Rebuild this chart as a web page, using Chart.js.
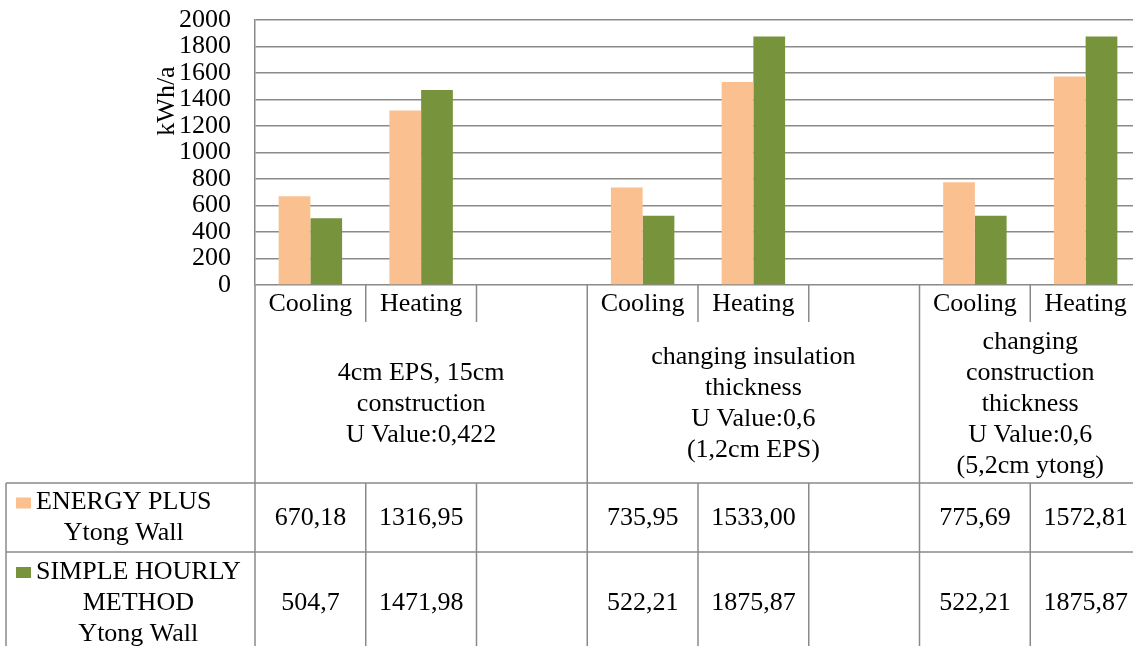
<!DOCTYPE html>
<html lang="en">
<head>
  <meta charset="UTF-8" />
  <title>Ytong Wall - Cooling and Heating</title>
  <script src="https://cdn.jsdelivr.net/npm/chart.js"></script>
  <style>
    html, body {
      margin: 0;
      padding: 0;
      background: #fff;
      overflow: hidden;
    }
    #wrap {
      width: 1141px;
      height: 646px;
    }
  </style>
</head>
<body>
  <div id="wrap"><canvas id="grafico" width="1141" height="646"></canvas></div>

<script>
  // data as printed in the table (decimal comma)
  const categories = ["Cooling", "Heating", "", "Cooling", "Heating", "", "Cooling", "Heating"];
  const energyPlus = ["670,18", "1316,95", "", "735,95", "1533,00", "", "775,69", "1572,81"];
  const simpleHourly = ["504,7", "1471,98", "", "522,21", "1875,87", "", "522,21", "1875,87"];
  const groupStarts = [0, 3, 6];
  const groupLabels = [
    ["4cm EPS, 15cm", "construction", "U Value:0,422"],
    ["changing insulation", "thickness", "U Value:0,6", "(1,2cm EPS)"],
    ["changing", "construction", "thickness", "U Value:0,6", "(5,2cm ytong)"]
  ];
  const seriesNames = [
    ["ENERGY PLUS", "Ytong Wall"],
    ["SIMPLE HOURLY", "METHOD", "Ytong Wall"]
  ];
  const yTitle = "kWh/a";
  const yMin = 0, yMax = 2000, yStep = 200;

  const corLaranja = "#FAC090";
  const corVerde = "#77933C";
  const corLinha = "#8a8a8a";
  const fonte = "'Liberation Serif', 'Times New Roman', serif";
  const tamanho = 26;

  function toNum(s) {
    return s === "" ? null : parseFloat(s.replace(",", "."));
  }

  const tabela = {
    id: "tabela",
    afterDraw(chart) {
      const ctx = chart.ctx;
      const xs = chart.scales.x;
      const area = chart.chartArea;
      const n = categories.length;
      const colW = (area.right - area.left) / n;
      const colLeft = i => area.left + i * colW;
      const topo = area.bottom;
      const catBottom = 322, groupBottom = 483, rowSplit = 552, fundo = chart.height;
      const legLeft = 6;

      ctx.save();
      ctx.strokeStyle = corLinha;
      ctx.lineWidth = 1.5;
      const linha = (x1, y1, x2, y2) => {
        ctx.beginPath();
        ctx.moveTo(x1, y1);
        ctx.lineTo(x2, y2);
        ctx.stroke();
      };
      for (let i = 0; i <= n; i++) {
        const x = colLeft(i);
        if (groupStarts.includes(i) || i === n) {
          linha(x, topo, x, fundo);
        } else {
          linha(x, topo, x, catBottom);
          linha(x, groupBottom, x, fundo);
        }
      }
      linha(legLeft, groupBottom, area.right, groupBottom);
      linha(legLeft, rowSplit, area.right, rowSplit);
      linha(legLeft, groupBottom, legLeft, fundo);

      ctx.fillStyle = "#000";
      ctx.font = tamanho + "px " + fonte;
      ctx.textAlign = "center";
      ctx.textBaseline = "middle";

      categories.forEach((c, i) => ctx.fillText(c, xs.getPixelForValue(i), 304));

      groupLabels.forEach((linhas, g) => {
        const a = groupStarts[g];
        const b = g + 1 < groupStarts.length ? groupStarts[g + 1] : n;
        const cx = (colLeft(a) + colLeft(b)) / 2;
        linhas.forEach((t, k) => ctx.fillText(t, cx, 404 + (k - (linhas.length - 1) / 2) * 31));
      });

      const linhasTabela = [
        { y: 518, valores: energyPlus, nomes: seriesNames[0], cor: corLaranja },
        { y: 603, valores: simpleHourly, nomes: seriesNames[1], cor: corVerde }
      ];
      linhasTabela.forEach(r => {
        r.valores.forEach((v, i) => ctx.fillText(v, xs.getPixelForValue(i), r.y));
        const larg = Math.max(...r.nomes.map(t => ctx.measureText(t).width));
        const x0 = 36;
        r.nomes.forEach((t, k) => {
          const y = r.y + (k - (r.nomes.length - 1) / 2) * 31;
          ctx.fillText(t, x0 + larg / 2, y);
          if (k === 0) {
            ctx.fillStyle = r.cor;
            ctx.fillRect(16, y - 5, 15, 11);
            ctx.fillStyle = "#000";
          }
        });
      });

      // y axis title
      ctx.translate(167, 101);
      ctx.rotate(-Math.PI / 2);
      ctx.fillText(yTitle, 0, 0);
      ctx.restore();
    }
  };

  new Chart(document.getElementById("grafico").getContext("2d"), {
    type: "bar",
    data: {
      labels: categories,
      datasets: [
        {
          label: seriesNames[0].join(" "),
          data: energyPlus.map(toNum),
          backgroundColor: corLaranja,
          categoryPercentage: 0.573,
          barPercentage: 1
        },
        {
          label: seriesNames[1].join(" "),
          data: simpleHourly.map(toNum),
          backgroundColor: corVerde,
          categoryPercentage: 0.573,
          barPercentage: 1
        }
      ]
    },
    options: {
      responsive: false,
      animation: false,
      layout: { padding: { top: 20, bottom: 361, left: 0, right: 0 } },
      plugins: {
        legend: { display: false },
        tooltip: { enabled: false }
      },
      scales: {
        x: { display: false },
        y: {
          min: yMin,
          max: yMax,
          ticks: {
            stepSize: yStep,
            autoSkip: false,
            padding: 24,
            color: "#000",
            font: { family: fonte, size: tamanho, lineHeight: 1 },
            callback: v => String(v)
          },
          grid: { color: corLinha, lineWidth: 1.5, drawTicks: false },
          border: { color: corLinha, width: 1.5 },
          afterFit(s) {
            s.width = 255;
            s.paddingTop = 0;
            s.paddingBottom = 0;
          }
        }
      }
    },
    plugins: [tabela]
  });
</script>
</body>
</html>
